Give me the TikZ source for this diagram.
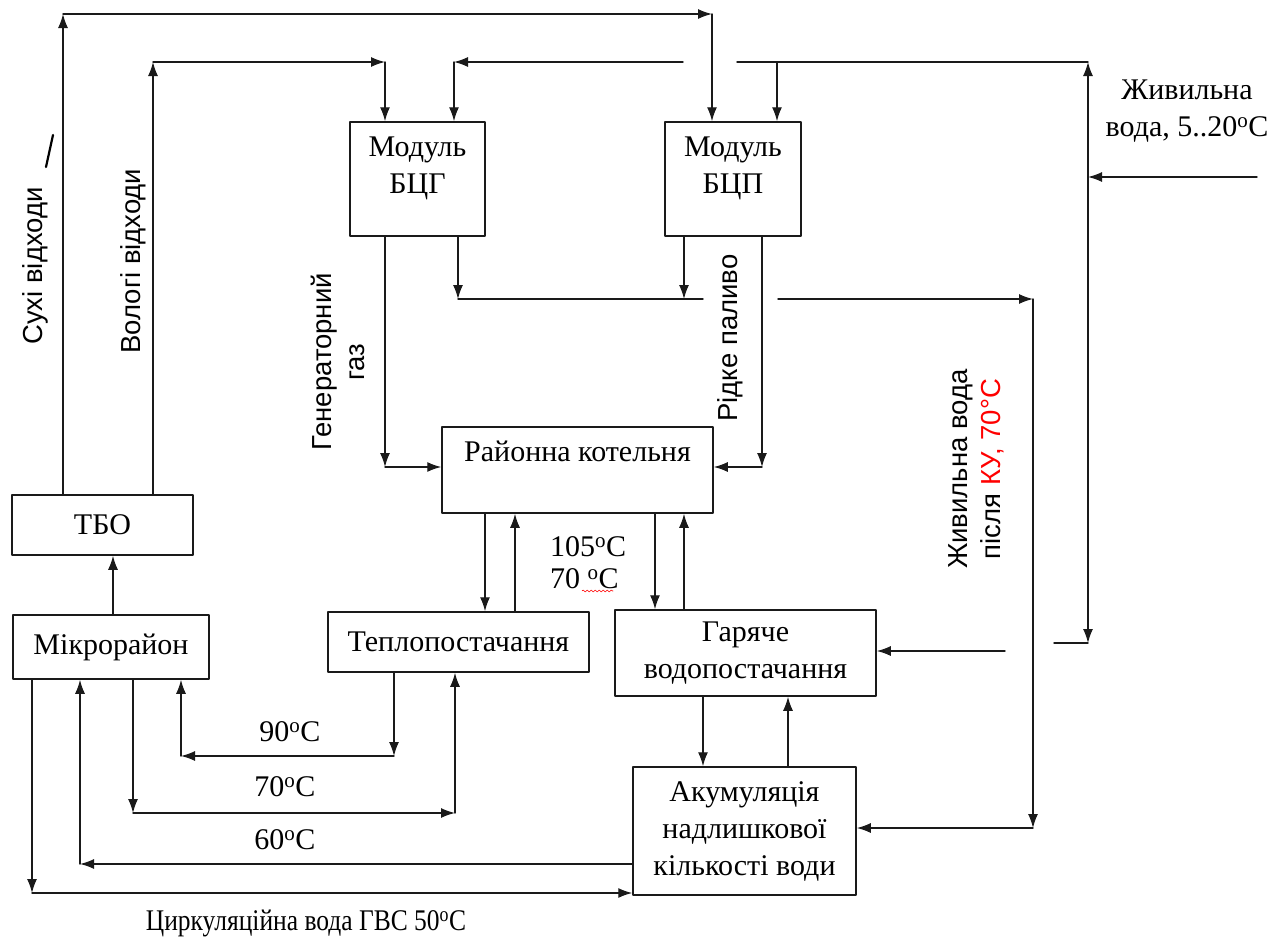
\documentclass[tikz,border=0pt]{standalone}
\usepackage{fontspec}
\setmainfont{Liberation Serif}
\newfontfamily\arialfont{Liberation Sans}
\usetikzlibrary{arrows.meta,decorations.pathmorphing}
\definecolor{linecolor}{HTML}{1A1A1A}
\definecolor{kucolor}{HTML}{FF0000}
\newcommand{\dg}{\textsuperscript{o}}

\begin{document}
\begin{tikzpicture}[x=1pt,y=-1pt,line cap=round,line join=round,
  box/.style={draw=linecolor,line width=1.5pt,inner sep=0pt,align=center,
    font=\fontsize{30}{37}\selectfont},
  lbl/.style={inner sep=0pt,align=center,font=\fontsize{30}{37}\selectfont},
  vlbl/.style={rotate=90,inner sep=0pt,align=center,font=\arialfont\fontsize{27.5}{33}\selectfont},
  flow/.style={draw=linecolor,line width=1.4pt},
  arr/.style={flow,-{Latex[length=14pt,width=10pt]}}]
  \useasboundingbox (0,0) rectangle (1283,937);
  \fill[white] (0,0) rectangle (1283,937);

  % blocks
  \node[box,minimum width=135,minimum height=114] (bcg) at (417.5,179) {Модуль\\БЦГ\\[-10pt]\mbox{}};
  \node[box,minimum width=136,minimum height=114] (bcp) at (733,179) {Модуль\\БЦП\\[-10pt]\mbox{}};
  \node[box,minimum width=271,minimum height=86] (kot) at (577.5,470) {Районна котельня\\\mbox{}};
  \node[box,minimum width=181,minimum height=60] (tbo) at (102.5,525) {ТБО};
  \node[box,minimum width=196,minimum height=64] (mikro) at (111,647) {Мікрорайон};
  \node[box,minimum width=261,minimum height=60] (teplo) at (458.5,642) {Теплопостачання};
  \node[box,minimum width=261,minimum height=86] (gvp) at (745.5,653) {Гаряче\\водопостачання};
  \node[box,minimum width=223,minimum height=128] (akum) at (744.5,831) {Акумуляція\\надлишкової\\кількості води};

  % bends
  \coordinate (dry) at (63,14);     \coordinate (dryR) at (712,14);
  \coordinate (wet) at (153,62);    \coordinate (wetR) at (385,62);
  \coordinate (feedin) at (1257,177); \coordinate (feed) at (1088,177);
  \coordinate (feedT) at (1088,62); \coordinate (feedB) at (1088,643);
  \coordinate (gas) at (385,467);   \coordinate (fuel) at (762,467);
  \coordinate (ku) at (1033,299);   \coordinate (kuB) at (1033,828);
  \coordinate (r90) at (394,756);   \coordinate (l90) at (181,756);
  \coordinate (l70) at (133,813);   \coordinate (r70) at (455,813);
  \coordinate (l60) at (80,864);    \coordinate (l50) at (32,893);

  % waste
  \draw[arr] (dry |- tbo.north) -- (dry);
  \draw[arr] (dry) -- (dryR);
  \draw[arr] (dryR) -- (dryR |- bcp.north);
  \draw[arr] (wet |- tbo.north) -- (wet);
  \draw[arr] (wet) -- (wetR);
  \draw[arr] (wetR) -- (wetR |- bcg.north);
  \draw[line width=2.2pt] (53,135) -- (46,167);

  % feed water
  \draw[arr] (feedin) -- (feed);
  \draw[arr] (feed) -- (feedT);
  \draw[arr] (feed) -- (feedB);
  \draw[flow] (feedT) -- (737,62);
  \draw[arr] (777,62) -- (777,62 |- bcp.north);
  \draw[arr] (683,62) -- (454,62);
  \draw[arr] (454,62) -- (454,62 |- bcg.north);
  \draw[flow] (feedB) -- (1054,643);
  \draw[arr] (1005,651) -- (gvp.east |- 0,651);

  % gas and fuel
  \draw[arr] (gas |- bcg.south) -- (gas);
  \draw[arr] (gas) -- (kot.west |- gas);
  \draw[arr] (fuel |- bcp.south) -- (fuel);
  \draw[arr] (fuel) -- (kot.east |- fuel);
  \draw[arr] (458,0 |- bcg.south) -- (458,299);
  \draw[flow] (458,299) -- (703,299);
  \draw[arr] (684,0 |- bcp.south) -- (684,299);
  \draw[arr] (778,299) -- (ku);
  \draw[arr] (ku) -- (kuB);
  \draw[arr] (kuB) -- (akum.east |- kuB);

  \foreach \x/\a/\b in {485/kot/teplo,655/kot/gvp,703/gvp/akum}
    \draw[arr] (\x,0 |- \a.south) -- (\x,0 |- \b.north);
  \foreach \x/\a/\b in {515/teplo/kot,684/gvp/kot,788/akum/gvp,113/mikro/tbo}
    \draw[arr] (\x,0 |- \a.north) -- (\x,0 |- \b.south);

  % district loops
  \draw[arr] (r90 |- teplo.south) -- (r90);
  \draw[arr] (r90) -- (l90);
  \draw[arr] (l90) -- (l90 |- mikro.south);
  \draw[arr] (l70 |- mikro.south) -- (l70);
  \draw[arr] (l70) -- (r70);
  \draw[arr] (r70) -- (r70 |- teplo.south);
  \draw[arr] (akum.west |- l60) -- (l60);
  \draw[arr] (l60) -- (l60 |- mikro.south);
  \draw[arr] (l50 |- mikro.south) -- (l50);
  \draw[arr] (l50) -- (akum.west |- l50);

  % labels
  \node[vlbl] (dryl) at (35,266) {Сухі відходи};
  \node[vlbl] (wetl) at (133,261) {Вологі відходи};
  \node[vlbl] (gasl) at (338,362) {Генераторний\\газ};
  \node[vlbl] (fuell) at (730,338) {Рідке паливо};
  \node[vlbl] (kul) at (976,469) {Живильна вода\\після \textcolor{kucolor}{КУ, 70°C}};
  \node[lbl] (feedl) at (1187,111) {Живильна\\вода, 5..20\dg C};
  \node[lbl,anchor=west] (t105) at (550,547) {105\dg C};
  \node[lbl,anchor=west] (t70k) at (550,579) {70 \dg C};
  \draw[red,line width=0.6pt,decorate,decoration={snake,amplitude=1pt,segment length=4pt}] (582,591) -- (613,591);
  \node[lbl] (t90) at (290,732) {90\dg C};
  \node[lbl] (t70) at (285,787) {70\dg C};
  \node[lbl] (t60) at (285,840) {60\dg C};
  \node[lbl] (t50) at (306,923) {\scalebox{0.85}[1]{Циркуляційна вода ГВС 50\dg C}};
\end{tikzpicture}
\end{document}
